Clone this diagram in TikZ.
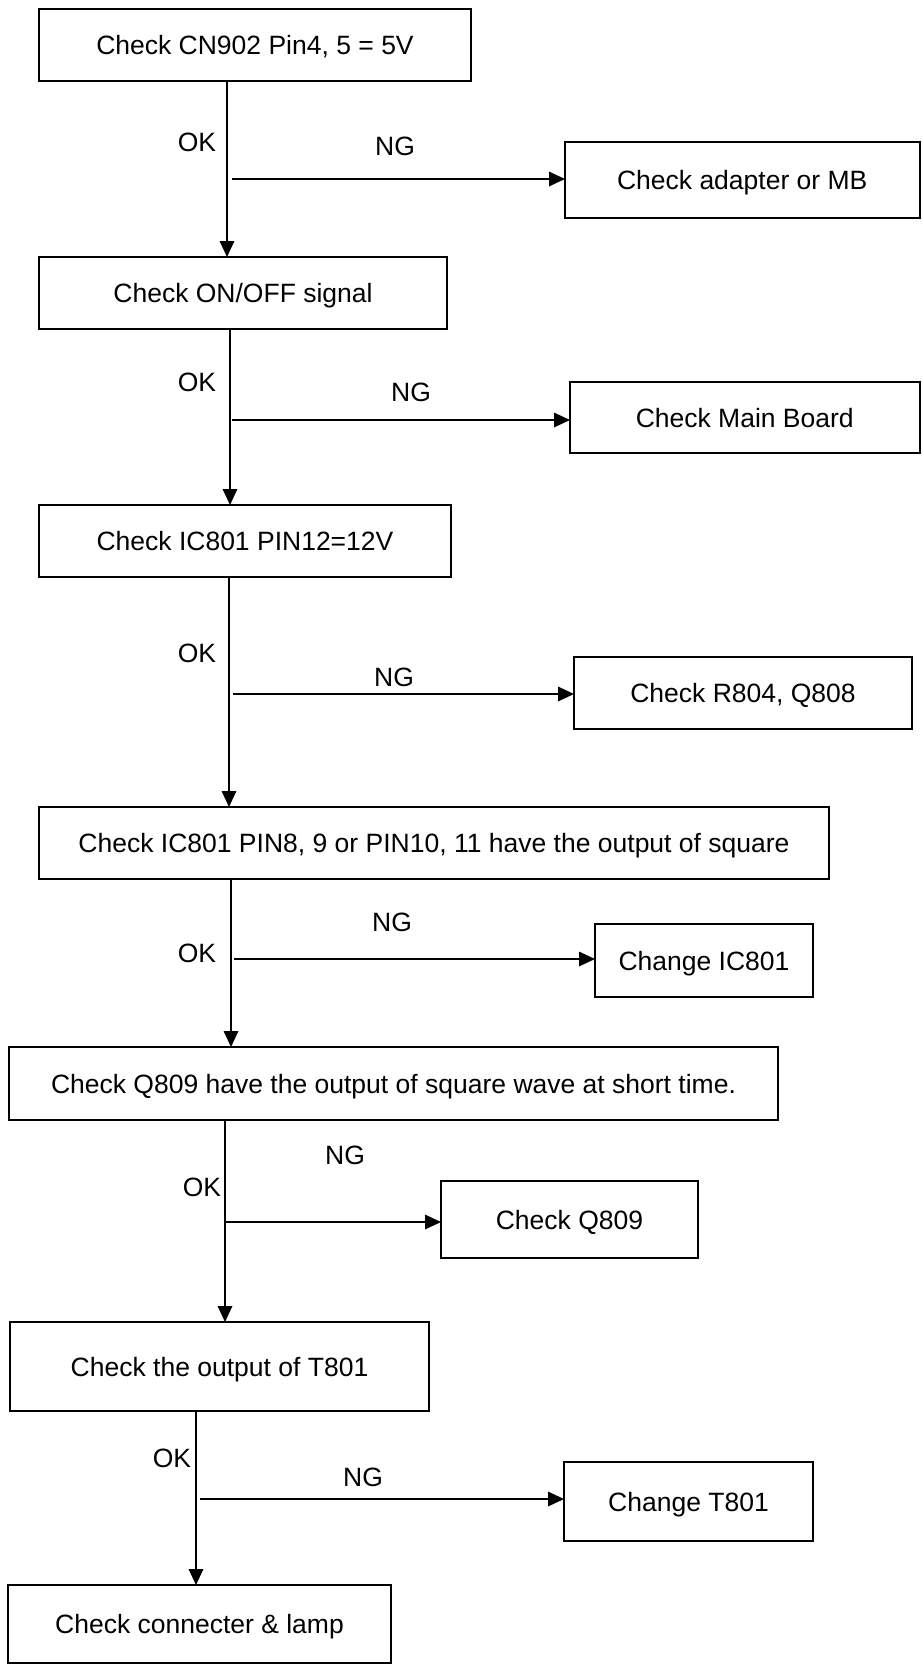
\documentclass[tikz,border=0pt]{standalone}
\usepackage{fontspec}
\setmainfont{Liberation Sans}
\usetikzlibrary{arrows.meta}
\begin{document}
\begin{tikzpicture}[x=0.5pt,y=-0.5pt,
  txt/.style={font=\fontsize{13.25pt}{15pt}\selectfont, text height=9.5pt, text depth=0pt, inner sep=0pt},
  box/.style={txt, draw, line width=1pt, outer sep=0pt},
  arr/.style={line width=0.85pt, -{Triangle[length=8pt,width=7.25pt]}}]
\useasboundingbox (0,0) rectangle (921,1665);
% boxes
\node[box, minimum width=216pt, minimum height=36pt] (b1) at (255,45) {Check CN902 Pin4, 5 = 5V};
\node[box, minimum width=177.25pt, minimum height=38pt] (b2) at (742.25,180) {Check adapter or MB};
\node[box, minimum width=204pt, minimum height=36pt] (b3) at (243,293) {Check ON/OFF signal};
\node[box, minimum width=174.75pt, minimum height=35.5pt] (b4) at (744.75,417.5) {Check Main Board};
\node[box, minimum width=206pt, minimum height=36pt] (b5) at (245,541) {Check IC801 PIN12=12V};
\node[box, minimum width=169pt, minimum height=36pt] (b6) at (743,693) {Check R804, Q808};
\node[box, minimum width=395pt, minimum height=36pt] (b7) at (434,843) {Check IC801 PIN8, 9 or PIN10, 11 have the output of square};
\node[box, minimum width=109pt, minimum height=36.5pt] (b8) at (704,960.5) {Change IC801};
\node[box, minimum width=384.5pt, minimum height=36.5pt] (b9) at (393.5,1083.5) {Check Q809 have the output of square wave at short time.};
\node[box, minimum width=128.5pt, minimum height=38.5pt] (b10) at (569.5,1219.5) {Check Q809};
\node[box, minimum width=209.5pt, minimum height=44.5pt] (b11) at (219.5,1366.5) {Check the output of T801};
\node[box, minimum width=124.5pt, minimum height=39.5pt] (b12) at (688.5,1501.5) {Change T801};
\node[box, minimum width=191.5pt, minimum height=39pt] (b13) at (199.5,1624) {Check connecter \& lamp};
% junctions
\coordinate (j1) at (227,179);
\coordinate (j2) at (230,420);
\coordinate (j3) at (229,694);
\coordinate (j4) at (231,959);
\coordinate (j5) at (225,1222);
\coordinate (j6) at (196,1499);
% vertical arrows
\draw[arr] (b1.south -| j1) -- (b3.north -| j1);
\draw[arr] (b3.south -| j2) -- (b5.north -| j2);
\draw[arr] (b5.south -| j3) -- (b7.north -| j3);
\draw[arr] (b7.south -| j4) -- (b9.north -| j4);
\draw[arr] (b9.south -| j5) -- (b11.north -| j5);
\draw[arr] (b11.south -| j6) -- (b13.north -| j6);
% horizontal arrows
\draw[arr] ([xshift=2.5pt]j1) -- (j1 -| b2.west);
\draw[arr] ([xshift=1pt]j2) -- (j2 -| b4.west);
\draw[arr] ([xshift=2pt]j3) -- (j3 -| b6.west);
\draw[arr] ([xshift=1.5pt]j4) -- (j4 -| b8.west);
\draw[arr] ([xshift=0.5pt]j5) -- (j5 -| b10.west);
\draw[arr] ([xshift=2pt]j6) -- (j6 -| b12.west);
% labels
\node[txt] (ok1) at (197,142) {OK};
\node[txt] (ng1) at (395,146) {NG};
\node[txt] (ok2) at (197,382) {OK};
\node[txt] (ng2) at (411,392) {NG};
\node[txt] (ok3) at (197,653) {OK};
\node[txt] (ng3) at (394,677) {NG};
\node[txt] (ok4) at (197,953) {OK};
\node[txt] (ng4) at (392,922) {NG};
\node[txt] (ok5) at (202,1187) {OK};
\node[txt] (ng5) at (345,1155) {NG};
\node[txt] (ok6) at (172,1458) {OK};
\node[txt] (ng6) at (363,1477) {NG};
\end{tikzpicture}
\end{document}
